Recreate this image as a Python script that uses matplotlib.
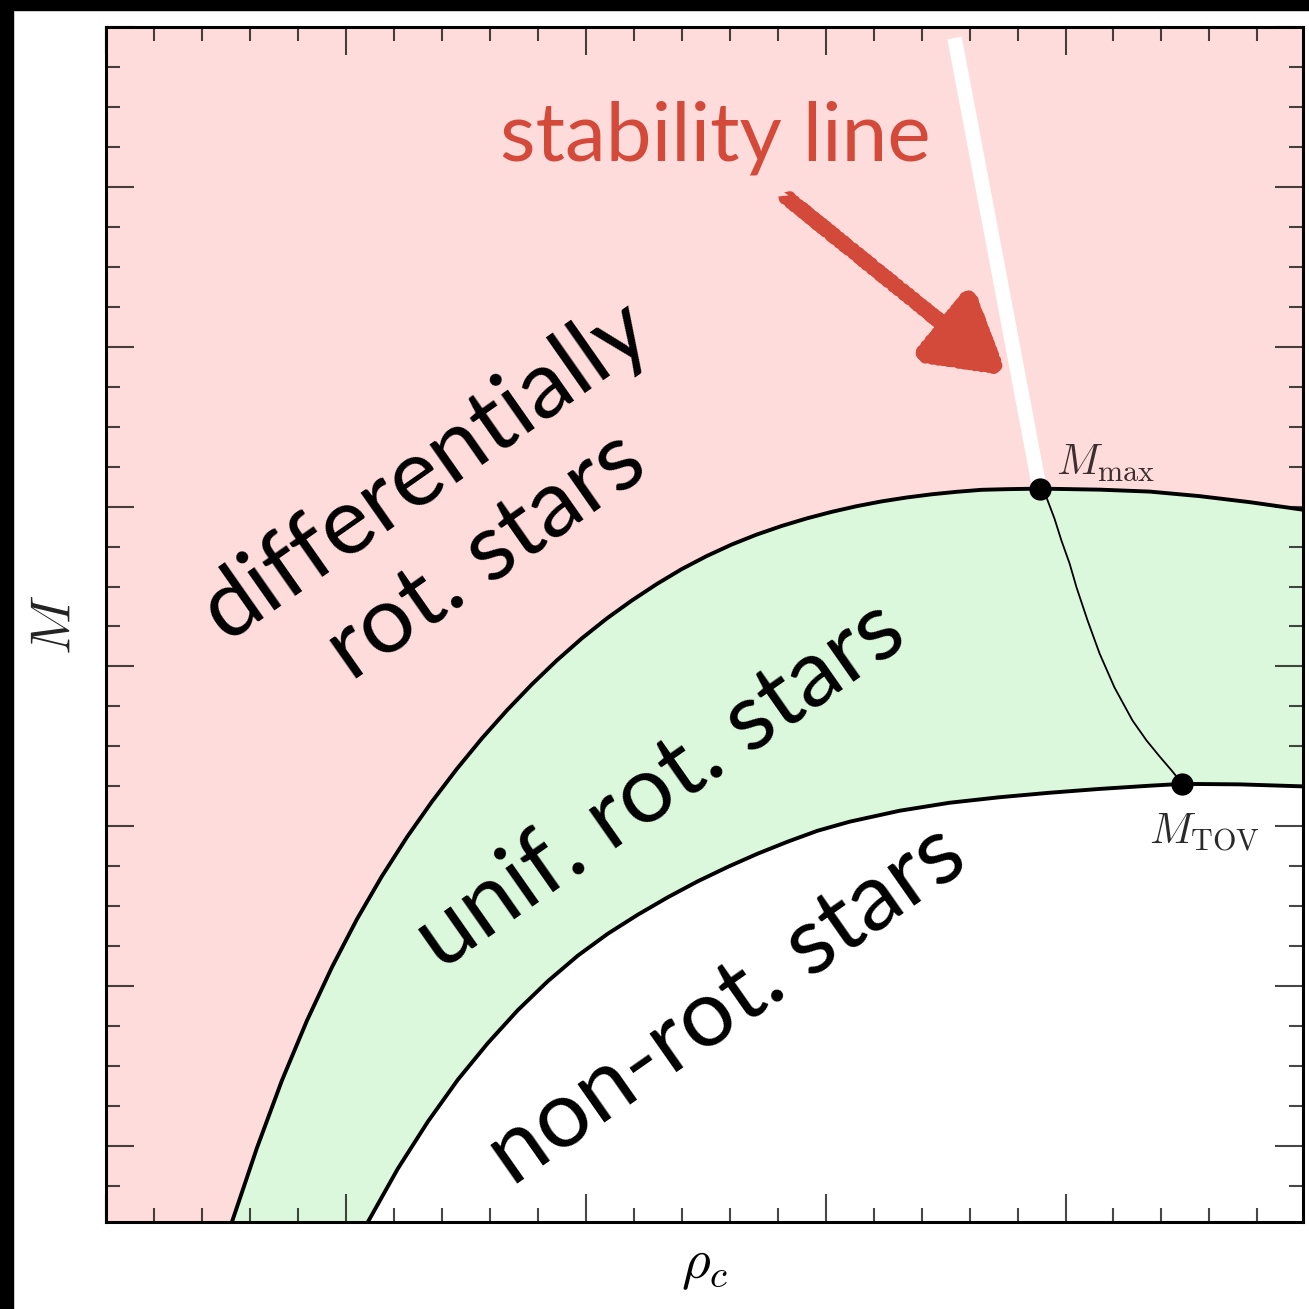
import matplotlib
matplotlib.use("Agg")
import matplotlib.pyplot as plt
from matplotlib.ticker import MultipleLocator

plt.rcParams['mathtext.fontset'] = 'cm'
plt.rcParams['font.family'] = ['Lato', 'DejaVu Sans']

# maximum-mass sequence of uniformly rotating stars
rho_unif = [0.525, 0.629, 0.733, 0.8375, 0.942, 1.046, 1.15, 1.254, 1.358, 1.4625,
            1.567, 1.671, 1.775, 1.879, 1.983, 2.0875, 2.192, 2.296, 2.4, 2.504,
            2.608, 2.7125, 2.817, 2.921, 3.025, 3.129, 3.233, 3.3375, 3.442, 3.546,
            3.65, 3.754, 3.892, 4.142, 4.35, 4.558, 4.767, 4.9875]
m_unif = [0.525, 0.9875, 1.409, 1.784, 2.119, 2.419, 2.6875, 2.931, 3.153, 3.359,
          3.55, 3.725, 3.8875, 4.0375, 4.175, 4.3, 4.4125, 4.5156, 4.609, 4.6906,
          4.7625, 4.825, 4.879, 4.926, 4.967, 5.0025, 5.0325, 5.0569, 5.0769, 5.0925,
          5.105, 5.109, 5.1125, 5.106, 5.094, 5.0656, 5.028, 4.981]

# non-rotating (TOV) sequence
rho_tov = [1.0917, 1.2167, 1.3417, 1.4667, 1.5917, 1.7167, 1.8417, 1.9667, 2.0917,
           2.2167, 2.3417, 2.4667, 2.5917, 2.7167, 2.8417, 2.9667, 3.1, 3.3083,
           3.5167, 3.725, 3.9333, 4.1417, 4.35, 4.4875, 4.725, 4.9875]
m_tov = [0.525, 0.859, 1.1525, 1.415, 1.644, 1.85, 2.031, 2.191, 2.328, 2.447,
         2.556, 2.656, 2.746, 2.829, 2.904, 2.9725, 3.029, 3.0975, 3.1475, 3.182,
         3.21, 3.234, 3.254, 3.2656, 3.2625, 3.25]

# turning-point (stability) line between the two maxima
rho_stab = [3.892, 3.921, 3.954, 3.983, 4.017, 4.046, 4.092, 4.142, 4.204, 4.279,
            4.3375, 4.392, 4.442, 4.4875]
m_stab = [5.1125, 5.056, 4.925, 4.7875, 4.644, 4.494, 4.2875, 4.081, 3.869, 3.6625,
          3.5375, 3.4375, 3.35, 3.2656]

# its continuation into the differentially rotating region
rho_stab_ext = [3.5375, 3.892]
m_stab_ext = [7.931, 5.1125]

rho_max, m_max = 3.892, 5.1125
rho_tov_max, m_tov_max = 4.4875, 3.2656

arrow_tail = (2.829, 6.944)
arrow_tip = (3.746, 5.831)

XMIN, XMAX = 0.0, 4.99
YMIN, YMAX = 0.525, 8.0

PINK = '#ffdcdc'
GREEN = '#dbf8dc'
RED = '#d34a3a'
TICK = (0.0, 0.0, 0.0, 0.72)

fig = plt.figure(figsize=(13.09, 13.09), dpi=100)
fig.patches.append(plt.Rectangle((0, 1 - 10 / 1309), 1, 10 / 1309,
                                 transform=fig.transFigure, color='black'))
fig.patches.append(plt.Rectangle((0, 0), 13 / 1309, 1,
                                 transform=fig.transFigure, color='black'))
ax = fig.add_axes([106 / 1309, 1 - 1222 / 1309, 1197 / 1309, 1195 / 1309])
ax.set_facecolor(PINK)

ax.fill_between(rho_unif, YMIN, m_unif, color=GREEN, lw=0, zorder=1)
ax.fill_between(rho_tov, YMIN, m_tov, color='white', lw=0, zorder=1)
ax.plot(rho_unif, m_unif, color='black', lw=2.8, zorder=3, solid_joinstyle='round')
ax.plot(rho_tov, m_tov, color='black', lw=2.8, zorder=3, solid_joinstyle='round')
ax.plot(rho_stab, m_stab, color='black', lw=1.3, zorder=3, solid_joinstyle='round')
ax.plot(rho_stab_ext, m_stab_ext, color='white', lw=10.5, zorder=2,
        solid_capstyle='butt')
ax.plot([rho_max, rho_tov_max], [m_max, m_tov_max], 'o', color='black',
        ms=15, zorder=4, ls='none')

ax.text(rho_max + 0.07, m_max + 0.09, r'$M_{\rm max}$', fontsize=31,
        color='#3d2f2f', ha='left', va='baseline')
ax.text(rho_tov_max - 0.14, m_tov_max - 0.375, r'$M_{\rm TOV}$', fontsize=31,
        color='#2a2a2a', ha='left', va='baseline')

# region labels
ax.text(1.46, 4.96, 'differentially\nrot. stars', fontsize=68, rotation=35,
        rotation_mode='anchor', ha='center', va='center', linespacing=1.3,
        zorder=5)
ax.text(2.3125, 3.256, 'unif. rot. stars', fontsize=68, rotation=35,
        rotation_mode='anchor', ha='center', va='center', zorder=5)
ax.text(2.5875, 1.881, 'non-rot. stars', fontsize=68, rotation=35,
        rotation_mode='anchor', ha='center', va='center', zorder=5)

ax.text(1.642, 7.1625, 'stability line', fontsize=59, color=RED,
        ha='left', va='baseline', zorder=5)

arr = ax.annotate('', xy=arrow_tip, xytext=arrow_tail, zorder=5,
                  arrowprops=dict(arrowstyle='-|>,head_length=2.3,head_width=1.35',
                                  mutation_scale=20, color=RED, lw=9,
                                  capstyle='butt', shrinkA=0, shrinkB=0))
arr.arrow_patch.set_sketch_params(2.0, 6, 2)

ax.set_xlim(XMIN, XMAX)
ax.set_ylim(YMIN, YMAX)
ax.xaxis.set_major_locator(MultipleLocator(1))
ax.xaxis.set_minor_locator(MultipleLocator(0.2))
ax.yaxis.set_major_locator(MultipleLocator(1))
ax.yaxis.set_minor_locator(MultipleLocator(0.25))
ax.tick_params(which='both', direction='in', top=True, right=True,
               labelbottom=False, labelleft=False, color=TICK, width=1.5)
ax.tick_params(which='major', length=20)
ax.tick_params(which='minor', length=10)
for sp in ax.spines.values():
    sp.set_linewidth(2.2)
    sp.set_zorder(6)

ax.set_xlabel(r'$\rho_c$', fontsize=40, labelpad=14)
ax.set_ylabel(r'$M$', fontsize=40, labelpad=18, color='#222222')

fig.savefig('out.png', dpi=100, facecolor='white')
